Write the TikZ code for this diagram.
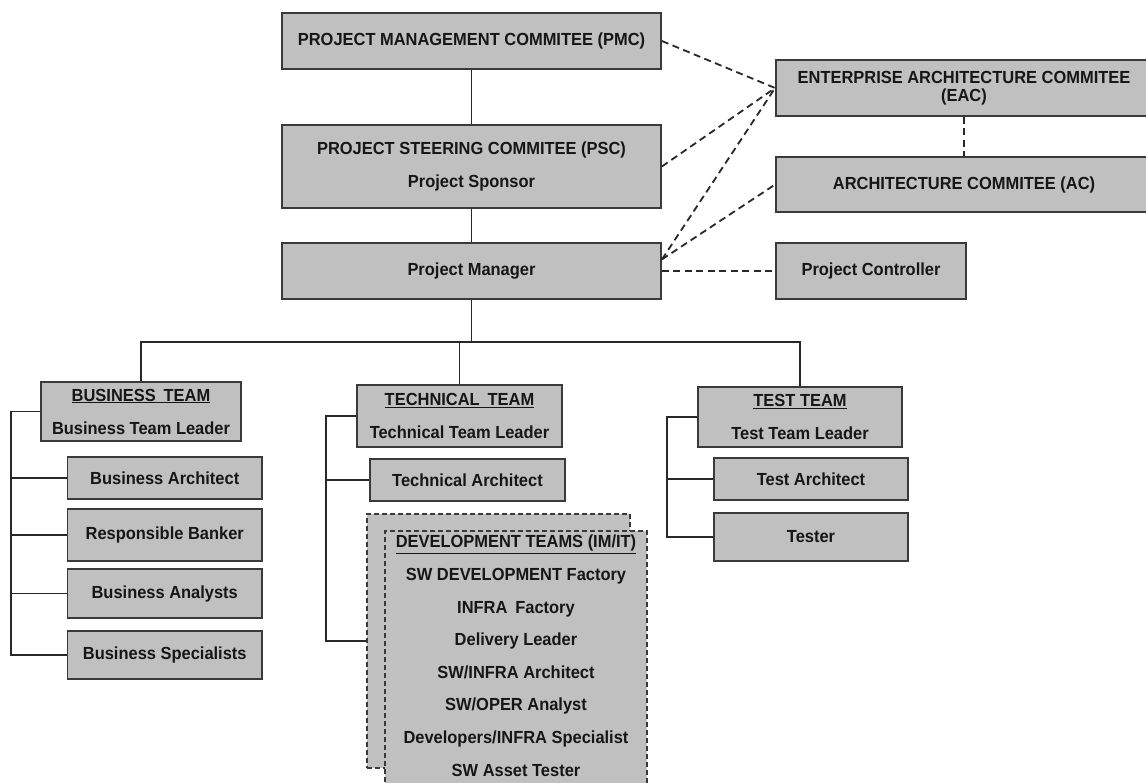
\documentclass[tikz,border=0pt]{standalone}
\usepackage{fontspec}
\setmainfont{Liberation Sans}[FakeStretch=0.94]
\usetikzlibrary{calc}
\definecolor{boxfill}{RGB}{192,192,192}
\definecolor{boxline}{RGB}{58,58,58}
\definecolor{inkline}{RGB}{40,40,40}
\definecolor{inktext}{RGB}{22,22,22}
\begin{document}
\begin{tikzpicture}[x=1pt,y=-1pt,
  box/.style={draw=boxline, fill=boxfill, line width=1.8pt, inner sep=0pt,
    align=center, text=inktext, font=\bfseries\fontsize{17.5}{33}\selectfont},
  devbox/.style={draw=boxline, fill=boxfill, line width=1.6pt,
    dash pattern=on 5pt off 3pt, inner sep=0pt},
  devtext/.style={align=center, text=inktext, inner sep=0pt,
    font=\bfseries\fontsize{17.5}{32.6}\selectfont},
  link/.style={draw=inkline, line width=1.7pt},
  dlink/.style={draw=inkline, line width=1.8pt, dash pattern=on 7pt off 4.5pt}
]
\useasboundingbox (0,0) rectangle (1146,782);
\clip (0,0) rectangle (1146,782);

% ---- governance ----
\node (pmc) [box, minimum width=379pt, minimum height=56pt] at (471.5,41)
  {PROJECT MANAGEMENT COMMITEE (PMC)};
\node (psc) [box, minimum width=379pt, minimum height=83pt] at (471.5,166.5)
  {PROJECT STEERING COMMITEE (PSC)\\Project Sponsor};
\node (pm) [box, minimum width=379pt, minimum height=56pt] at (471.5,271)
  {Project Manager};

\node (eac) [box, minimum width=376pt, minimum height=56pt,
  font=\bfseries\fontsize{17.5}{17.5}\selectfont] at (964,88)
  {ENTERPRISE ARCHITECTURE COMMITEE\\(EAC)};
\node (ac) [box, minimum width=376pt, minimum height=55pt] at (964,184.5)
  {ARCHITECTURE COMMITEE (AC)};
\node (pc) [box, minimum width=190pt, minimum height=56pt] at (871,271)
  {Project Controller};

% ---- business team ----
\node (bt) [box, minimum width=200pt, minimum height=59pt] at (141,411.5)
  {\underline{BUSINESS\hspace{0.45em}TEAM}\\Business Team Leader};
\node (ba) [box, minimum width=194.5pt, minimum height=42pt] at (164.75,478)
  {Business Architect};
\node (rb) [box, minimum width=194.5pt, minimum height=52pt] at (164.75,535)
  {Responsible Banker};
\node (ban) [box, minimum width=194.5pt, minimum height=49pt] at (164.75,593.5)
  {Business Analysts};
\node (bs) [box, minimum width=194.5pt, minimum height=48pt] at (164.75,655)
  {Business Specialists};

% ---- technical team ----
\node (tt) [box, minimum width=205pt, minimum height=62pt] at (459.5,416)
  {\underline{TECHNICAL\hspace{0.45em}TEAM}\\Technical Team Leader};
\node (ta) [box, minimum width=195pt, minimum height=42pt] at (467.5,480)
  {Technical Architect};
\node (devback) [devbox, minimum width=263pt, minimum height=254pt] at (498.5,641) {};
\node (dev) [devbox, minimum width=262pt, minimum height=270pt] at (516,666) {};
\node (devlist) [devtext, anchor=north] at (516,535)
  {\underline{DEVELOPMENT TEAMS (IM/IT)}\\
   SW DEVELOPMENT Factory\\
   INFRA\hspace{0.45em}Factory\\
   Delivery Leader\\
   SW/INFRA Architect\\
   SW/OPER Analyst\\
   Developers/INFRA Specialist\\
   SW Asset Tester};

% ---- test team ----
\node (testt) [box, minimum width=204pt, minimum height=60pt] at (800,417)
  {\underline{TEST TEAM}\\Test Team Leader};
\node (tsa) [box, minimum width=194pt, minimum height=42pt] at (811,479)
  {Test Architect};
\node (tester) [box, minimum width=194pt, minimum height=48pt] at (811,537)
  {Tester};

% ---- reporting lines ----
\draw[link] (pmc) -- (psc);
\draw[link] (psc) -- (pm);
\coordinate (hub) at ($(pm.south)+(0,42)$);
\draw[link] (pm.south) -- (hub);
\draw[link] (bt.north) |- (hub) -| (testt.north);
\draw[link] (tt.north) -- (tt.north |- hub);

\coordinate (btk) at ($(bt.west)+(-29,0)$);
\draw[link] (bt.west) -- (btk) |- (bs.west);
\draw[link] (btk |- ba.west) -- (ba.west);
\draw[link] (btk |- rb.west) -- (rb.west);
\draw[link] (btk |- ban.west) -- (ban.west);

\coordinate (ttk) at ($(tt.west)+(-30,0)$);
\draw[link] (tt.west) -- (ttk) |- (devback.west);
\draw[link] (ttk |- ta.west) -- (ta.west);

\coordinate (tsk) at ($(testt.west)+(-30,0)$);
\draw[link] (testt.west) -- (tsk) |- (tester.west);
\draw[link] (tsk |- tsa.west) -- (tsa.west);

% ---- advisory lines ----
\coordinate (pmout) at ($(pm.north east)!0.3!(pm.south east)$);
\draw[dlink] (pmc.east) -- (eac.west);
\draw[dlink] (psc.east) -- (eac.west);
\draw[dlink] (pmout) -- (eac.west);
\draw[dlink] (pmout) -- (ac.west);
\draw[dlink] (pm.east) -- (pc.west);
\draw[dlink] (eac.south) -- (ac.north);
\end{tikzpicture}
\end{document}
